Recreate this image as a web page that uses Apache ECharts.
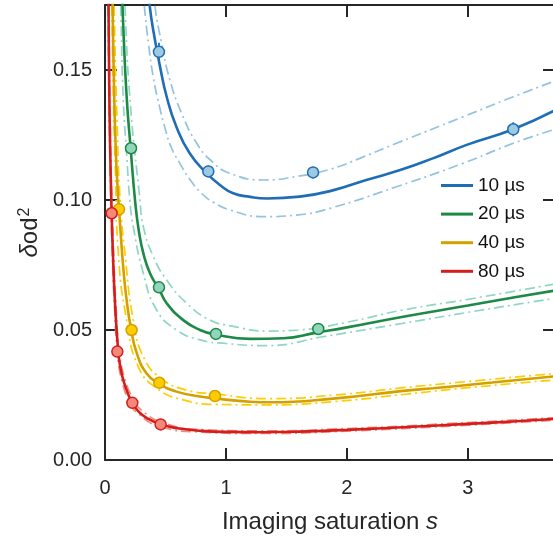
<!DOCTYPE html>
<html>
<head>
<meta charset="utf-8">
<script src="https://cdn.jsdelivr.net/npm/echarts@6.0.0/dist/echarts.min.js"></script>
<style>
  html, body { margin: 0; padding: 0; background: #fff; }
  #chart { width: 553px; height: 541px; }
</style>
</head>
<body>
<div id="chart"></div>
<script>
// Exposure times shown in the legend
const labels = ['10 µs', '20 µs', '40 µs', '80 µs'];

// Measured noise points: saturation, δod², error
const sat10 = [0.446, 0.854, 1.72, 3.375];
const od10  = [0.157, 0.111, 0.1106, 0.1272];
const err10 = [0.0035, 0.0022, 0.0022, 0.0027];

const sat20 = [0.215, 0.446, 0.917, 1.763];
const od20  = [0.1199, 0.0664, 0.0485, 0.0504];
const err20 = [0.002, 0.0015, 0.0012, 0.0012];

const sat40 = [0.116, 0.22, 0.449, 0.909];
const od40  = [0.0964, 0.0500, 0.0297, 0.0246];
const err40 = [0.0015, 0.0012, 0.001, 0.001];

const sat80 = [0.055, 0.102, 0.226, 0.46];
const od80  = [0.0949, 0.0417, 0.0220, 0.0137];
const err80 = [0.0012, 0.001, 0.0008, 0.0008];

// Fitted curves [s, δod²] with upper / lower confidence bounds
const fit10 = [[0.34,0.19],[0.37,0.1746],[0.40,0.1650],[0.455,0.1513],[0.51,0.1397],[0.59,0.1282],[0.70,0.1180],[0.84,0.1103],[0.95,0.1058],[1.06,0.1026],[1.20,0.1012],[1.34,0.1006],[1.61,0.1013],[1.89,0.1038],[2.16,0.1077],[2.44,0.1115],[2.71,0.1160],[2.99,0.1212],[3.375,0.1272],[3.72,0.1345]];
const fit10Hi = [[0.39,0.19],[0.413,0.1747],[0.468,0.1603],[0.537,0.1460],[0.634,0.1333],[0.758,0.1218],[0.88,0.1150],[1.03,0.1103],[1.31,0.1077],[1.58,0.1090],[1.86,0.1118],[2.13,0.1165],[2.41,0.1218],[2.96,0.1320],[3.375,0.1397],[3.72,0.1458]];
const fit10Lo = [[0.30,0.19],[0.325,0.1747],[0.36,0.1600],[0.40,0.1470],[0.45,0.1360],[0.50,0.1270],[0.55,0.1200],[0.62,0.1140],[0.70,0.1080],[0.80,0.1025],[0.90,0.0990],[1.03,0.0962],[1.31,0.0936],[1.58,0.0942],[1.86,0.0968],[2.41,0.1051],[2.96,0.1141],[3.375,0.1218],[3.72,0.1272]];

const fit20 = [[0.135,0.19],[0.15,0.168],[0.18,0.139],[0.212,0.1199],[0.25,0.0990],[0.28,0.0880],[0.317,0.0795],[0.372,0.0718],[0.449,0.0655],[0.51,0.0603],[0.647,0.0538],[0.785,0.0500],[0.909,0.0483],[1.2,0.0466],[1.474,0.0468],[1.75,0.0490],[2.0,0.0510],[2.465,0.0551],[3.0,0.0594],[3.4,0.0627],[3.72,0.0652]];
const fit20Hi = [[0.155,0.19],[0.165,0.1747],[0.207,0.1385],[0.289,0.1000],[0.317,0.0897],[0.40,0.0782],[0.51,0.0692],[0.675,0.0603],[0.868,0.0538],[1.05,0.0515],[1.34,0.0496],[1.6,0.0500],[2.0,0.0530],[2.465,0.0577],[3.0,0.0618],[3.72,0.0677]];
const fit20Lo = [[0.12,0.19],[0.13,0.1747],[0.151,0.1385],[0.18,0.117],[0.205,0.1000],[0.234,0.0897],[0.317,0.0718],[0.427,0.0577],[0.592,0.0500],[0.785,0.0462],[1.0,0.0448],[1.336,0.0440],[1.8,0.0474],[2.465,0.0526],[3.0,0.0568],[3.72,0.0622]];

const fit40 = [[0.058,0.19],[0.063,0.1747],[0.075,0.1420],[0.09,0.1180],[0.105,0.1040],[0.116,0.0964],[0.13,0.0870],[0.151,0.0740],[0.18,0.0610],[0.215,0.0505],[0.262,0.0412],[0.344,0.0333],[0.449,0.0293],[0.592,0.0263],[0.785,0.0244],[0.909,0.0237],[1.2,0.0224],[1.364,0.0222],[1.887,0.0236],[2.465,0.0266],[2.713,0.0276],[3.2,0.0298],[3.72,0.0322]];
const fit40Hi = [[0.07,0.19],[0.075,0.1747],[0.10,0.1300],[0.125,0.1000],[0.165,0.0795],[0.234,0.0538],[0.33,0.0385],[0.482,0.0308],[0.675,0.0269],[0.909,0.0254],[1.364,0.0236],[1.9,0.0250],[2.465,0.0278],[3.0,0.0302],[3.72,0.0333]];
const fit40Lo = [[0.052,0.19],[0.056,0.1747],[0.07,0.1380],[0.085,0.1130],[0.11,0.0795],[0.179,0.0538],[0.275,0.0359],[0.427,0.0276],[0.647,0.0231],[0.909,0.0214],[1.364,0.0212],[1.9,0.0225],[2.465,0.0252],[3.0,0.0278],[3.72,0.0308]];

const fit80 = [[0.026,0.19],[0.029,0.1747],[0.035,0.1440],[0.042,0.1215],[0.055,0.0949],[0.065,0.0800],[0.083,0.0603],[0.11,0.0414],[0.13,0.0350],[0.151,0.0308],[0.19,0.0255],[0.226,0.0220],[0.28,0.0185],[0.35,0.0160],[0.46,0.0137],[0.6,0.0122],[0.8,0.0112],[1.0,0.0108],[1.3,0.0107],[1.6,0.0109],[2.0,0.0116],[2.5,0.0127],[3.0,0.0139],[3.4,0.0149],[3.72,0.0158]];
const fit80Hi = [[0.029,0.19],[0.032,0.1747],[0.038,0.1450],[0.046,0.1215],[0.059,0.0960],[0.07,0.0810],[0.089,0.0610],[0.117,0.0425],[0.16,0.0318],[0.24,0.0228],[0.3,0.0192],[0.48,0.0143],[0.8,0.0117],[1.3,0.0112],[2.0,0.0121],[3.0,0.0144],[3.72,0.0163]];
const fit80Lo = [[0.024,0.19],[0.026,0.1747],[0.032,0.1440],[0.038,0.1215],[0.051,0.0940],[0.06,0.0790],[0.078,0.0595],[0.104,0.0405],[0.143,0.0298],[0.213,0.0212],[0.27,0.0180],[0.44,0.0131],[0.8,0.0107],[1.3,0.0102],[2.0,0.0111],[3.0,0.0134],[3.72,0.0153]];

// Axis ticks
const xTicks = [0, 1, 2, 3];
const yTicks = [0, 0.05, 0.10, 0.15];

const groups = [
  { name: labels[0], sat: sat10, od: od10, err: err10, fit: fit10, hi: fit10Hi, lo: fit10Lo,
    line: '#1f6db5', band: '#93c3e0', fill: '#9ecae1' },
  { name: labels[1], sat: sat20, od: od20, err: err20, fit: fit20, hi: fit20Hi, lo: fit20Lo,
    line: '#1c8a45', band: '#8fd6c3', fill: '#92d5bd' },
  { name: labels[2], sat: sat40, od: od40, err: err40, fit: fit40, hi: fit40Hi, lo: fit40Lo,
    line: '#d4a000', band: '#ffcc00', fill: '#ffcc00' },
  { name: labels[3], sat: sat80, od: od80, err: err80, fit: fit80, hi: fit80Hi, lo: fit80Lo,
    line: '#d41d1d', band: '#f4897a', fill: '#f4897a' }
];

const FONT = 'Liberation Sans, Arial, Helvetica, sans-serif';
const INK = '#262626';
const SMOOTH = 0.5;

const series = [];
groups.forEach((g) => {
  [['upper', g.hi], ['lower', g.lo]].forEach(([tag, arr]) => {
    series.push({
      name: g.name + ' ' + tag, type: 'line', data: arr, symbol: 'none',
      smooth: SMOOTH, z: 2, silent: true,
      lineStyle: { color: g.band, width: 1.7, type: [10, 4, 2, 4] },
      itemStyle: { color: g.band }
    });
  });
});
groups.forEach((g) => {
  series.push({
    name: g.name, type: 'line', data: g.fit, symbol: 'none',
    smooth: SMOOTH, z: 3,
    lineStyle: { color: g.line, width: 2.6 },
    itemStyle: { color: g.line }
  });
});
groups.forEach((g) => {
  series.push({
    name: g.name + ' error', type: 'custom', z: 4, silent: true,
    data: g.sat.map((s, i) => [s, g.od[i] - g.err[i], g.od[i] + g.err[i]]),
    encode: { x: 0, y: [1, 2] },
    renderItem: (params, api) => {
      const a = api.coord([api.value(0), api.value(1)]);
      const b = api.coord([api.value(0), api.value(2)]);
      return { type: 'line', shape: { x1: a[0], y1: a[1], x2: b[0], y2: b[1] },
               style: { stroke: g.line, lineWidth: 1.8 } };
    }
  });
  series.push({
    name: g.name + ' data', type: 'scatter', z: 5, silent: true,
    data: g.sat.map((s, i) => [s, g.od[i]]),
    symbol: 'circle', symbolSize: 11,
    itemStyle: { color: g.fill, borderColor: g.line, borderWidth: 1.5, opacity: 1 }
  });
});

const isTick = (v, list) => list.some((t) => Math.abs(v - t) < 1e-9);

const frameAxis = {
  axisLine: { show: true, onZero: false, lineStyle: { color: INK, width: 2 } },
  axisTick: { show: true, inside: true, length: 12, lineStyle: { color: INK, width: 2 } },
  splitLine: { show: false }
};

const option = {
  animation: false,
  backgroundColor: '#fff',
  grid: { left: 105, width: 450, top: 5, height: 455, containLabel: false, outerBoundsMode: 'none' },
  legend: {
    data: labels, orient: 'vertical', left: 441, top: 176, padding: 0,
    icon: 'rect', itemWidth: 32, itemHeight: 3, itemGap: 9.6,
    textStyle: { fontFamily: FONT, fontSize: 19, color: '#111' },
    selectedMode: false
  },
  xAxis: [
    Object.assign({}, frameAxis, {
      type: 'value', min: 0, max: 3.72, interval: 1, position: 'bottom',
      axisLabel: { fontFamily: FONT, fontSize: 20, color: INK, margin: 18,
                   formatter: (v) => isTick(v, xTicks) ? String(v) : '' },
      name: '{n|Imaging saturation }{s|s}', nameLocation: 'middle', nameGap: 50,
      nameTextStyle: { rich: {
        n: { fontFamily: FONT, fontSize: 24, color: INK },
        s: { fontFamily: FONT, fontSize: 24, color: INK, fontStyle: 'italic' }
      } }
    }),
    Object.assign({}, frameAxis, {
      type: 'value', min: 0, max: 3.72, interval: 1, position: 'top',
      axisLabel: { show: false }
    })
  ],
  yAxis: [
    Object.assign({}, frameAxis, {
      type: 'value', min: 0, max: 0.175, interval: 0.05, position: 'left',
      axisLabel: { fontFamily: FONT, fontSize: 20, color: INK, margin: 13,
                   formatter: (v) => isTick(v, yTicks) ? v.toFixed(2) : '' },
      name: '{d|δ}{n|od}{p|2}', nameLocation: 'middle', nameGap: 60, nameRotate: 90,
      nameTextStyle: { rich: {
        d: { fontFamily: FONT, fontSize: 24, color: INK, fontStyle: 'italic' },
        n: { fontFamily: FONT, fontSize: 24, color: INK },
        p: { fontFamily: FONT, fontSize: 16, color: INK, padding: [0, 0, 12, 1] }
      } }
    }),
    Object.assign({}, frameAxis, {
      type: 'value', min: 0, max: 0.175, interval: 0.05, position: 'right',
      axisLabel: { show: false }
    })
  ],
  series: series
};

const chart = echarts.init(document.getElementById('chart'), null, { renderer: 'canvas' });
chart.setOption(option);
</script>
</body>
</html>
